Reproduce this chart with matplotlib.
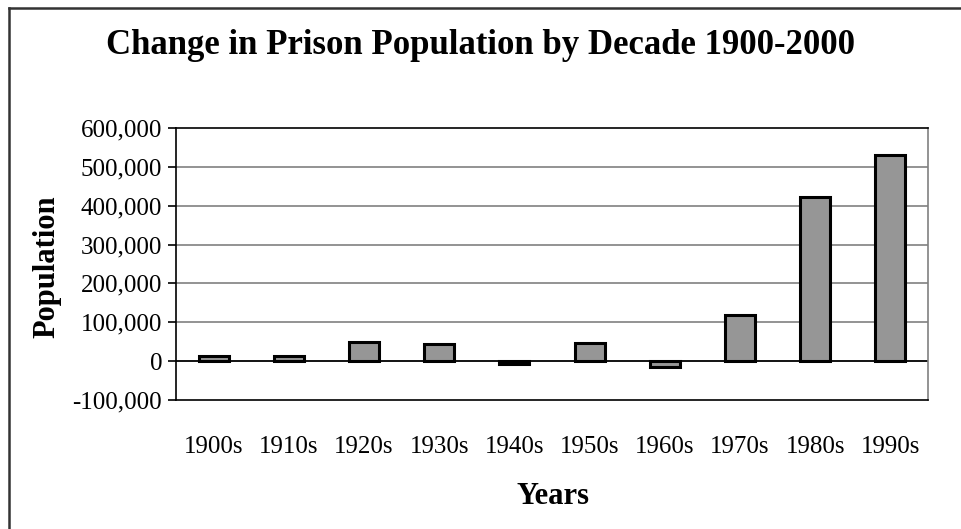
import matplotlib
matplotlib.use("Agg")
import matplotlib.pyplot as plt
from matplotlib.lines import Line2D
from matplotlib.ticker import FuncFormatter

decades = ["1900s", "1910s", "1920s", "1930s", "1940s", "1950s", "1960s", "1970s", "1980s", "1990s"]
change = [12000, 14000, 48000, 45000, -8000, 46000, -15000, 119000, 422000, 531000]
yticks = [-100000, 0, 100000, 200000, 300000, 400000, 500000, 600000]

plt.rcParams["font.family"] = ["Liberation Serif", "DejaVu Serif"]

W, H = 961, 529
fig = plt.figure(figsize=(W / 100, H / 100), dpi=100)
ax = fig.add_axes([176 / W, 1 - 400 / H, (928 - 176) / W, (400 - 128) / H])

x = list(range(len(decades)))
ax.bar(x, change, width=0.4, color="#969696", edgecolor="black", linewidth=2.2, zorder=3)

ax.set_xlim(-0.5, len(decades) - 0.5)
ax.set_ylim(-100000, 600000)
ax.set_yticks(yticks)
ax.yaxis.set_major_formatter(FuncFormatter(lambda v, p: f"{int(v):,}"))
ax.set_xticks(x)
ax.set_xticklabels(decades)
ax.tick_params(axis="y", length=6, width=1.2, labelsize=18, pad=4)
ax.tick_params(axis="x", length=0, labelsize=18, pad=26)

for v in yticks[2:-1]:
    ax.axhline(v, color="#808080", linewidth=1.2, zorder=1)
ax.axhline(0, color="black", linewidth=1.3, zorder=2)

for side in ["left", "top", "bottom"]:
    ax.spines[side].set_color("black")
    ax.spines[side].set_linewidth(1.2)
ax.spines["right"].set_color("#808080")
ax.spines["right"].set_linewidth(1.2)

ax.set_ylabel("Population", fontsize=22, fontweight="bold", va="center")
ax.yaxis.set_label_coords((47 - 176) / (928 - 176), 0.49)
ax.set_xlabel("Years", fontsize=22, fontweight="bold", va="center")
ax.xaxis.set_label_coords(0.5 + (553 - 552) / (928 - 176), (400 - 497) / (400 - 128))
fig.text(481 / W, 1 - 45 / H, "Change in Prison Population by Decade 1900-2000",
         ha="center", va="center", fontsize=25, fontweight="bold")

# outer chart-area border (left and top edges visible)
fig.add_artist(Line2D([9 / W, 9 / W], [0, 1 - 8 / H], transform=fig.transFigure,
                      color="#333333", linewidth=1.8))
fig.add_artist(Line2D([9 / W, 1], [1 - 8 / H, 1 - 8 / H], transform=fig.transFigure,
                      color="#333333", linewidth=1.8))

fig.savefig("out.png", dpi=100)
